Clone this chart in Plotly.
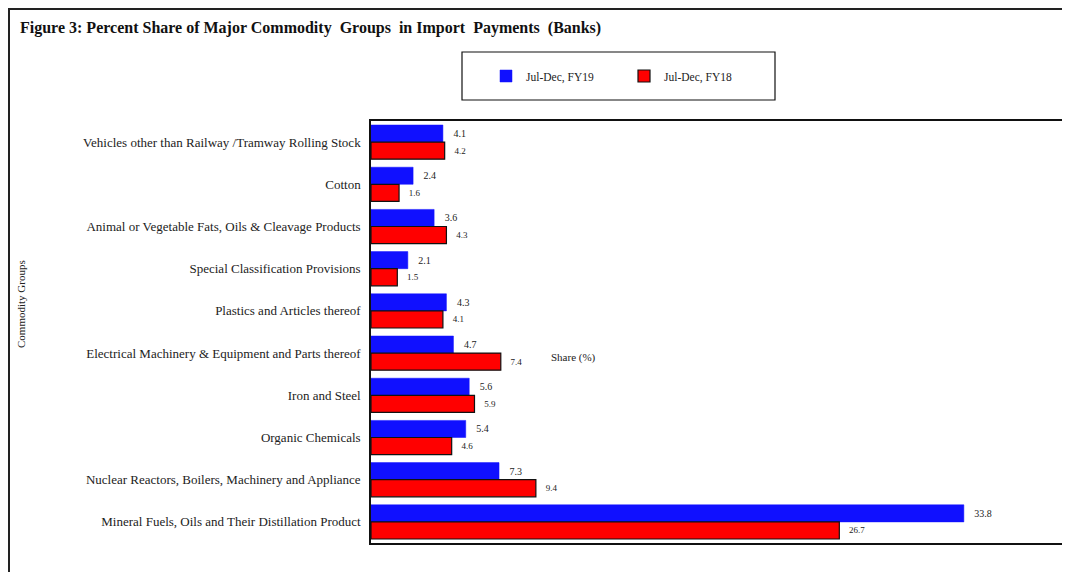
import plotly.graph_objects as go

categories = [
    "Vehicles other than Railway /Tramway Rolling Stock",
    "Cotton",
    "Animal or Vegetable Fats, Oils & Cleavage Products",
    "Special Classification Provisions",
    "Plastics and Articles thereof",
    "Electrical Machinery & Equipment and Parts thereof",
    "Iron and Steel",
    "Organic Chemicals",
    "Nuclear Reactors, Boilers, Machinery and Appliance",
    "Mineral Fuels, Oils and Their Distillation Product",
]
fy19 = [4.1, 2.4, 3.6, 2.1, 4.3, 4.7, 5.6, 5.4, 7.3, 33.8]
fy18 = [4.2, 1.6, 4.3, 1.5, 4.1, 7.4, 5.9, 4.6, 9.4, 26.7]
series_names = ["Jul-Dec, FY19", "Jul-Dec, FY18"]

OFF = 8  # page body margin
W, H = 1070 - OFF, 572 - OFF
L, R, T, B = 371 - OFF, 0, 121 - OFF, 572 - 543
pw = W - L - R
ph = H - T - B

def px(x):  # screenshot pixel -> paper
    return (x - OFF - L) / pw

def py(y):
    return (H - B - (y - OFF)) / ph

FONT = "Liberation Serif, Times New Roman, serif"

fig = go.Figure()
fig.add_trace(go.Bar(
    y=categories, x=fy19, name=series_names[0], orientation="h",
    marker=dict(color="#1010ff", line=dict(color="#1010ff", width=0.5)),
    text=fy19, texttemplate="   %{x:.1f}", textposition="outside",
    textfont=dict(family=FONT, size=10, color="#222"), cliponaxis=False,
))
fig.add_trace(go.Bar(
    y=categories, x=fy18, name=series_names[1], orientation="h",
    marker=dict(color="#ff0000", line=dict(color="#111", width=1.2)),
    text=fy18, texttemplate="   %{x:.1f}", textposition="outside",
    textfont=dict(family=FONT, size=9, color="#222"), cliponaxis=False,
))

fig.update_layout(
    width=W, height=H,
    margin=dict(l=L, r=R, t=T, b=B, autoexpand=False),
    paper_bgcolor="white", plot_bgcolor="white",
    barmode="group", bargap=0.19, bargroupgap=0.0,
    font=dict(family=FONT, size=13, color="#222"),
    showlegend=True,
    legend=dict(
        orientation="h", x=px(486), y=py(76), xanchor="left", yanchor="middle",
        font=dict(family=FONT, size=11.5, color="#222"),
        itemwidth=30, entrywidth=93, entrywidthmode="pixels",
        bgcolor="rgba(0,0,0,0)", traceorder="normal",
    ),
    xaxis=dict(
        range=[0, pw / 17.54], showgrid=False, zeroline=False,
        showticklabels=False, ticks="", showline=True, linecolor="#111",
        linewidth=1.5, mirror=True,
    ),
    yaxis=dict(
        autorange="reversed", showgrid=False, zeroline=False, ticks="",
        showline=True, linecolor="#111", linewidth=1.5, mirror=False,
        tickfont=dict(family=FONT, size=13, color="#222"), ticklabelstandoff=6,
    ),
    shapes=[
        dict(type="line", xref="paper", yref="paper", x0=px(9), x1=px(9),
             y0=py(8), y1=py(H + 20), line=dict(color="#222", width=2)),
        dict(type="line", xref="paper", yref="paper", x0=px(8), x1=px(W + 30),
             y0=py(9), y1=py(9), line=dict(color="#222", width=2)),
        dict(type="rect", xref="paper", yref="paper", x0=px(462), x1=px(775),
             y0=py(100), y1=py(52), line=dict(color="#111", width=1.2)),
    ],
    annotations=[
        dict(text="<b>Figure 3: Percent Share of Major Commodity  Groups  in Import  Payments  (Banks)</b>",
             xref="paper", yref="paper", x=px(18), y=py(28), xanchor="left", yanchor="middle",
             showarrow=False, font=dict(family=FONT, size=16, color="#111")),
        dict(text="Share (%)", xref="paper", yref="paper", x=px(573), y=py(357),
             xanchor="center", yanchor="middle", showarrow=False,
             font=dict(family=FONT, size=11, color="#222")),
        dict(text="Commodity Groups", xref="paper", yref="paper", x=px(21), y=py(304),
             xanchor="center", yanchor="middle", showarrow=False, textangle=-90,
             font=dict(family=FONT, size=11, color="#222")),
    ],
)

fig.write_html("out.html")
